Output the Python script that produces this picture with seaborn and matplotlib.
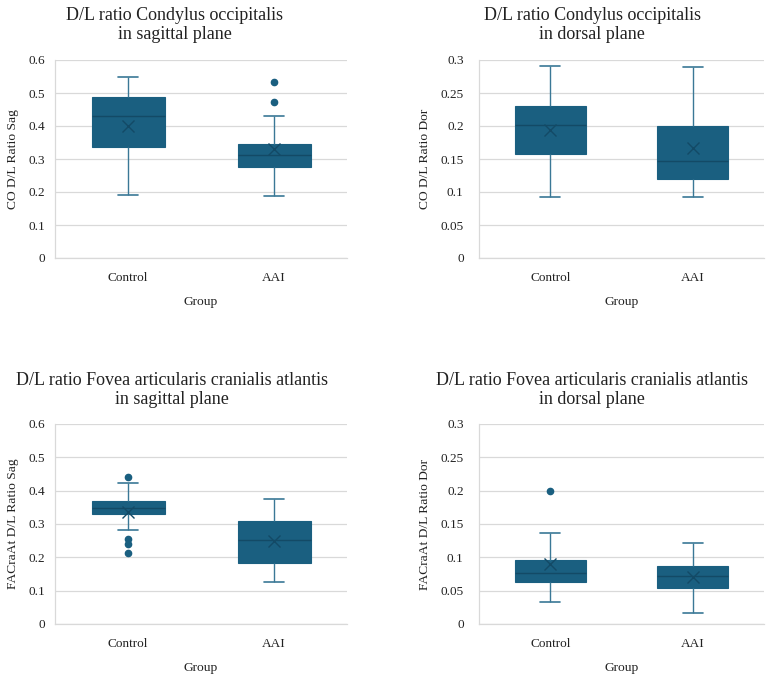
import numpy as np
import pandas as pd
import seaborn as sns
import matplotlib
matplotlib.use('Agg')
import matplotlib.pyplot as plt
from matplotlib.ticker import FuncFormatter

# raw values per group
co_sag_control = [0.190, 0.225, 0.248, 0.290, 0.337, 0.340, 0.365, 0.405, 0.429,
                  0.441, 0.458, 0.470, 0.487, 0.503, 0.518, 0.532, 0.550]
co_sag_aai = [0.187, 0.250, 0.258, 0.270, 0.276, 0.290, 0.300, 0.308, 0.311,
              0.325, 0.333, 0.341, 0.345, 0.398, 0.430, 0.474, 0.534]
co_dor_control = [0.093, 0.118, 0.135, 0.149, 0.158, 0.170, 0.183, 0.194, 0.202,
                  0.208, 0.215, 0.224, 0.231, 0.236, 0.240, 0.262, 0.291]
co_dor_aai = [0.092, 0.101, 0.108, 0.114, 0.120, 0.127, 0.134, 0.141, 0.147,
              0.162, 0.178, 0.192, 0.200, 0.226, 0.244, 0.264, 0.290]
fa_sag_control = [0.214, 0.239, 0.256, 0.282, 0.290, 0.330, 0.331, 0.332, 0.334, 0.338,
                  0.347, 0.348, 0.349, 0.351, 0.355, 0.368, 0.369, 0.370, 0.372, 0.423, 0.440]
fa_sag_aai = [0.126, 0.150, 0.168, 0.183, 0.205, 0.228, 0.251, 0.268, 0.290,
              0.310, 0.325, 0.348, 0.375]
fa_dor_control = [0.033, 0.055, 0.058, 0.061, 0.063, 0.070, 0.072, 0.075, 0.076,
                  0.088, 0.092, 0.094, 0.096, 0.125, 0.132, 0.136, 0.200]
fa_dor_aai = [0.016, 0.035, 0.046, 0.054, 0.062, 0.068, 0.072, 0.076, 0.082,
              0.087, 0.095, 0.105, 0.122]

groups = ['Control', 'AAI']
titles = ['D/L ratio Condylus occipitalis\nin sagittal plane',
          'D/L ratio Condylus occipitalis\nin dorsal plane',
          'D/L ratio Fovea articularis cranialis atlantis\nin sagittal plane',
          'D/L ratio Fovea articularis cranialis atlantis\nin dorsal plane']
ylabels = ['CO D/L Ratio Sag', 'CO D/L Ratio Dor',
           'FACraAt D/L Ratio Sag', 'FACraAt D/L Ratio Dor']
ymax = [0.6, 0.3, 0.6, 0.3]
ystep = [0.1, 0.05, 0.1, 0.05]
panels = [(co_sag_control, co_sag_aai), (co_dor_control, co_dor_aai),
          (fa_sag_control, fa_sag_aai), (fa_dor_control, fa_dor_aai)]

sns.set_style('white')
plt.rcParams['font.family'] = ['Liberation Serif', 'DejaVu Serif']

box_col = '#1a5f80'
dark = '#134a66'
line_col = '#3a7896'
grid_col = '#d9d9d9'
txt = '#222222'

W, H = 767, 682
fig = plt.figure(figsize=(W / 100, H / 100), dpi=100)

# axes boxes in pixels: left, top, right, bottom
rects = [(55, 60, 347, 258), (479, 60, 764, 258),
         (55, 424, 347, 624), (479, 424, 764, 624)]
title_pos = [(175, 25), (592, 25), (172, 390), (592, 390)]
ytick_pad = [7, 11, 7, 11]
ylab_x = [19, 431, 19, 431]

for i, (ctrl, aai) in enumerate(panels):
    l, t, r, b = rects[i]
    ax = fig.add_axes([l / W, 1 - b / H, (r - l) / W, (b - t) / H])
    df = pd.DataFrame({'Group': ['Control'] * len(ctrl) + ['AAI'] * len(aai),
                       'value': ctrl + aai})
    sns.boxplot(data=df, x='Group', y='value', order=groups, ax=ax,
                color=box_col, saturation=1, width=0.5, whis=1.5,
                showmeans=True, capwidths=0.14,
                boxprops=dict(facecolor=box_col, edgecolor=box_col, linewidth=0.8),
                medianprops=dict(color=dark, linewidth=1.0),
                whiskerprops=dict(color=line_col, linewidth=1.0),
                capprops=dict(color=line_col, linewidth=1.2),
                meanprops=dict(marker='x', markeredgecolor=dark, markerfacecolor=dark,
                               markersize=8, markeredgewidth=1.0),
                flierprops=dict(marker='o', markerfacecolor=box_col,
                                markeredgecolor=box_col, markersize=4.5))
    ax.set_ylim(0, ymax[i])
    ax.set_yticks(np.arange(0, ymax[i] + 1e-9, ystep[i]))
    ax.yaxis.set_major_formatter(FuncFormatter(lambda v, p: '{:g}'.format(round(v, 3))))
    ax.set_xlim(-0.5, 1.5)
    ax.yaxis.grid(True, color=grid_col, linewidth=0.9)
    ax.set_axisbelow(True)
    for s in ['top', 'right']:
        ax.spines[s].set_visible(False)
    for s in ['left', 'bottom']:
        ax.spines[s].set_color(grid_col)
        ax.spines[s].set_linewidth(0.9)
    ax.tick_params(axis='both', length=0, labelsize=9.5, colors=txt)
    ax.tick_params(axis='y', pad=ytick_pad[i])
    ax.tick_params(axis='x', pad=10)
    ax.set_ylabel(ylabels[i], fontsize=9.7, color=txt)
    ax.yaxis.set_label_coords((ylab_x[i] - l) / (r - l), 0.5)
    ax.set_xlabel('Group', fontsize=9.7, color=txt)
    ax.xaxis.set_label_coords(0.5, -38 / (b - t))
    tx, ty = title_pos[i]
    fig.text(tx / W, 1 - ty / H, titles[i], ha='center', va='center',
             fontsize=13, color=txt, linespacing=1.15)

fig.savefig('out.png', dpi=100)
